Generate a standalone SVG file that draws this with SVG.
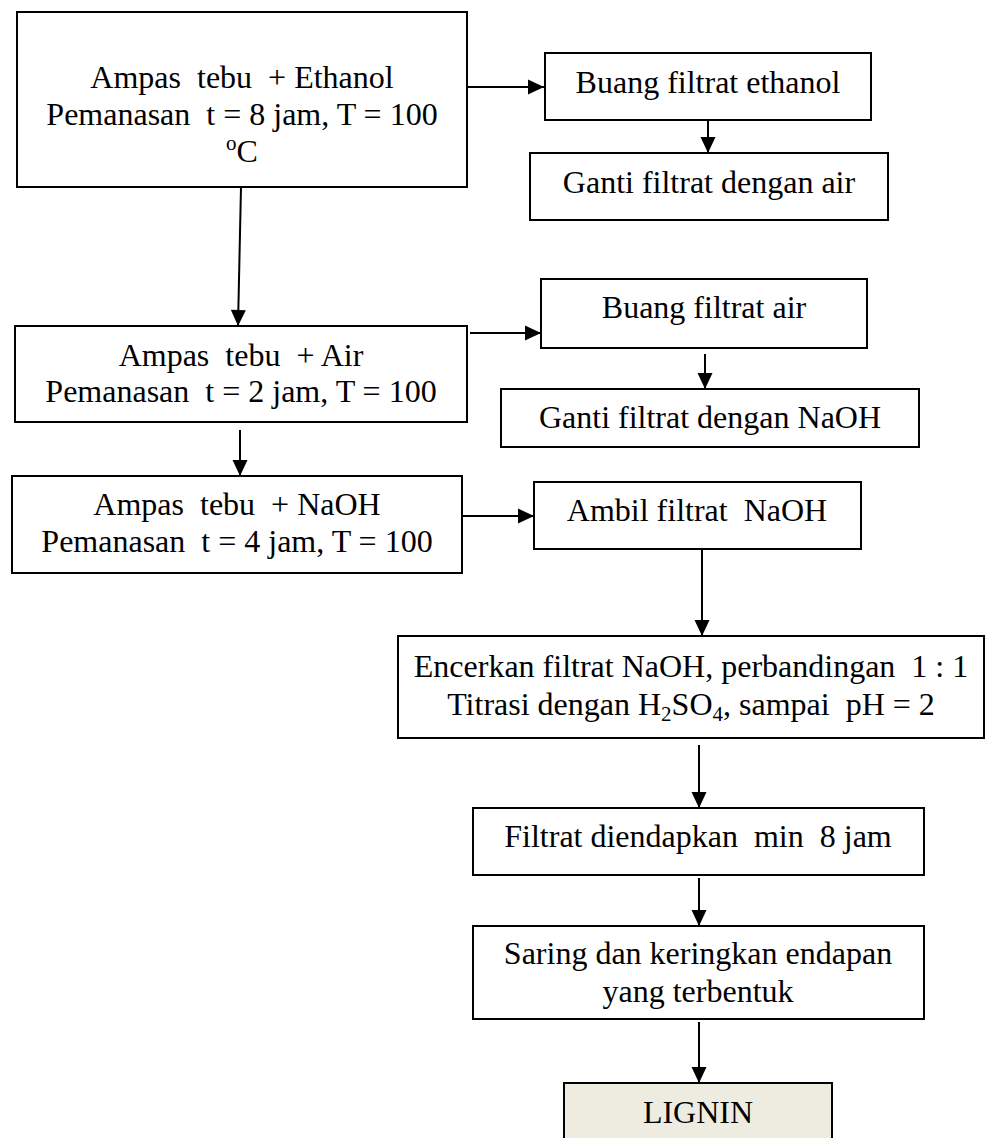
<svg xmlns="http://www.w3.org/2000/svg" width="990" height="1138" viewBox="0 0 990 1138">
<style>
.box{fill:#ffffff;stroke:#000000;stroke-width:2}
.fin{fill:#EEECE1;stroke:#000000;stroke-width:2}
.t{font-family:"Liberation Serif","Times New Roman",serif;font-size:32px;fill:#000000;text-anchor:middle;white-space:pre}
.c{stroke:#000000;stroke-width:2;fill:none}
</style>
<defs>
<marker id="ah" markerUnits="userSpaceOnUse" markerWidth="17" markerHeight="16" viewBox="0 0 17 16" refX="16.5" refY="8" orient="auto">
<path d="M0.5,0.5 L16.5,8 L0.5,15.5 Z" fill="#000000"/>
</marker>
</defs>
<g id="connectors">
<line class="c" x1="467" y1="87" x2="544" y2="87" marker-end="url(#ah)"/>
<line class="c" x1="708" y1="120" x2="708" y2="153" marker-end="url(#ah)"/>
<line class="c" x1="241" y1="187" x2="238" y2="326" marker-end="url(#ah)"/>
<line class="c" x1="470" y1="333" x2="541" y2="333" marker-end="url(#ah)"/>
<line class="c" x1="705" y1="354" x2="705" y2="389" marker-end="url(#ah)"/>
<line class="c" x1="240" y1="430" x2="240" y2="476" marker-end="url(#ah)"/>
<line class="c" x1="458" y1="516" x2="534" y2="516" marker-end="url(#ah)"/>
<line class="c" x1="702" y1="549" x2="702" y2="636" marker-end="url(#ah)"/>
<line class="c" x1="699" y1="745" x2="699" y2="808" marker-end="url(#ah)"/>
<line class="c" x1="699" y1="878" x2="699" y2="926" marker-end="url(#ah)"/>
<line class="c" x1="699" y1="1022" x2="699" y2="1083" marker-end="url(#ah)"/>
</g>
<g id="n1">
<rect class="box" x="17" y="12" width="450" height="175"/>
<text class="t" x="242" y="88">Ampas  tebu  + Ethanol</text>
<text class="t" x="242" y="125">Pemanasan  t = 8 jam, T = 100</text>
<text class="t" x="242" y="162"><tspan font-size="21" dy="-12">o</tspan><tspan dy="12">C</tspan></text>
</g>
<g id="n2">
<rect class="box" x="545" y="53" width="326" height="67"/>
<text class="t" x="708" y="93">Buang filtrat ethanol</text>
</g>
<g id="n3">
<rect class="box" x="530" y="153" width="358" height="67"/>
<text class="t" x="709" y="193">Ganti filtrat dengan air</text>
</g>
<g id="n4">
<rect class="box" x="15" y="326" width="452" height="96"/>
<text class="t" x="241" y="366">Ampas  tebu  + Air</text>
<text class="t" x="241" y="402">Pemanasan  t = 2 jam, T = 100</text>
</g>
<g id="n5">
<rect class="box" x="541" y="279" width="326" height="69"/>
<text class="t" x="704" y="318">Buang filtrat air</text>
</g>
<g id="n6">
<rect class="box" x="501" y="389" width="418" height="58"/>
<text class="t" x="710" y="428">Ganti filtrat dengan NaOH</text>
</g>
<g id="n7">
<rect class="box" x="12" y="476" width="450" height="97"/>
<text class="t" x="237" y="515">Ampas  tebu  + NaOH</text>
<text class="t" x="237" y="552">Pemanasan  t = 4 jam, T = 100</text>
</g>
<g id="n8">
<rect class="box" x="534" y="482" width="327" height="67"/>
<text class="t" x="697" y="521">Ambil filtrat  NaOH</text>
</g>
<g id="n9">
<rect class="box" x="398" y="636" width="586" height="102"/>
<text class="t" x="691" y="677">Encerkan filtrat NaOH, perbandingan  1 : 1</text>
<text class="t" x="691" y="715">Titrasi dengan H<tspan font-size="21" dy="6">2</tspan><tspan dy="-6">SO</tspan><tspan font-size="21" dy="6">4</tspan><tspan dy="-6">, sampai  pH = 2</tspan></text>
</g>
<g id="n10">
<rect class="box" x="473" y="808" width="451" height="67"/>
<text class="t" x="698" y="847">Filtrat diendapkan  min  8 jam</text>
</g>
<g id="n11">
<rect class="box" x="473" y="926" width="451" height="93"/>
<text class="t" x="698" y="964">Saring dan keringkan endapan</text>
<text class="t" x="698" y="1002">yang terbentuk</text>
</g>
<g id="n12">
<rect class="fin" x="564" y="1083" width="268" height="70"/>
<text class="t" x="698" y="1123">LIGNIN</text>
</g>
</svg>
